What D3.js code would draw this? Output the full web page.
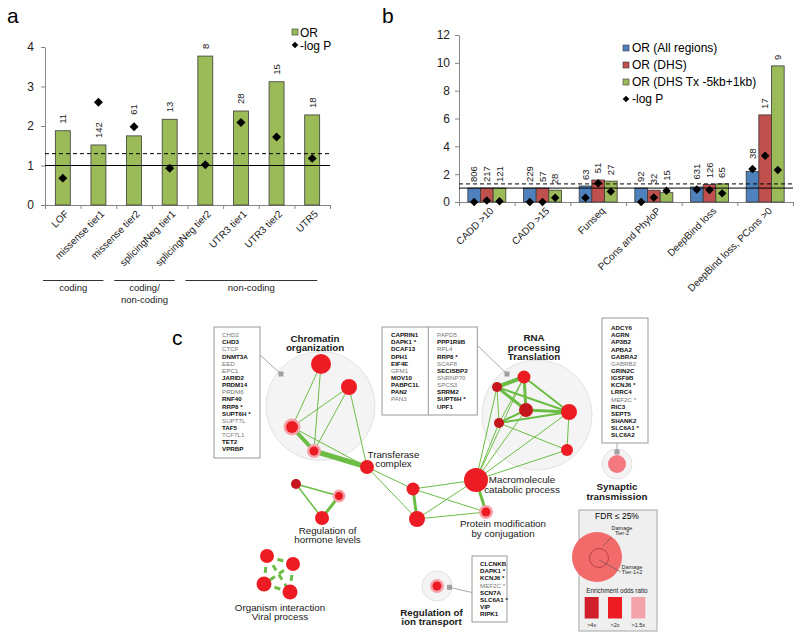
<!DOCTYPE html>
<html lang="en">
<head>
<meta charset="UTF-8">
<title>Variant enrichment and gene networks</title>
<style>
  body { margin: 0; background: #fff; }
  svg { display: block; font-family: Arial, "Liberation Sans", sans-serif; }
</style>
<script src="https://cdn.jsdelivr.net/npm/d3@7"></script>
</head>
<body>
<svg id="fig" width="800" height="637"></svg>
<script>
// ---- panel a data
const catsA = ['LOF', 'missense tier1', 'missense tier2', 'splicingNeg tier1', 'splicingNeg tier2', 'UTR3 tier1', 'UTR3 tier2', 'UTR5'];
const orA = [1.88, 1.52, 1.75, 2.17, 3.77, 2.38, 3.12, 2.28];
const logpA = [0.68, 2.6, 1.98, 0.93, 1.02, 2.09, 1.72, 1.18];
const countsA = [11, 142, 61, 13, 8, 28, 15, 18];
const ticksA = [0, 1, 2, 3, 4];
const groupsA = [
  { lines: ['coding'], from: 0, to: 1 },
  { lines: ['coding/', 'non-coding'], from: 2, to: 3 },
  { lines: ['non-coding'], from: 4, to: 7 }
];

// ---- panel b data
const catsB = ['CADD >10', 'CADD >15', 'Funseq', 'PCons and PhyloP', 'DeepBind loss', 'DeepBind loss, PCons >0'];
const seriesB = ['OR (All regions)', 'OR (DHS)', 'OR (DHS Tx -5kb+1kb)'];
const orAll = [1.0, 1.0, 1.15, 1.0, 1.08, 2.2];
const orDHS = [1.0, 1.0, 1.58, 0.85, 1.27, 6.26];
const orTx = [1.0, 0.85, 1.5, 0.67, 1.3, 9.78];
const logpAll = [0, 0, 0.3, 0, 0.9, 2.37];
const logpDHS = [0.1, 0, 1.35, 0.33, 0.87, 3.33];
const logpTx = [0.05, 0.3, 0.75, 0.8, 0.62, 2.3];
const countsAll = [806, 229, 63, 92, 631, 38];
const countsDHS = [217, 57, 51, 32, 126, 17];
const countsTx = [121, 28, 27, 15, 65, 9];
const ticksB = [0, 2, 4, 6, 8, 10, 12];

// ---- panel c data (layout units, mapped through scales below)
const netNodes = [
  { id: 'c1', x: 151, y: 49, r: 10, kind: 'red' },
  { id: 'c2', x: 179, y: 72, r: 8, kind: 'red' },
  { id: 'c3', x: 122, y: 112, r: 6, kind: 'halo' },
  { id: 'c4', x: 144, y: 136, r: 4.5, kind: 'halo' },
  { id: 'tr', x: 197, y: 152, r: 7, kind: 'red' },
  { id: 'h1', x: 126, y: 169, r: 5, kind: 'dark' },
  { id: 'h2', x: 169, y: 181, r: 4, kind: 'halo' },
  { id: 'h3', x: 152, y: 203, r: 7, kind: 'red' },
  { id: 'o1', x: 97, y: 241, r: 7, kind: 'red' },
  { id: 'o2', x: 123, y: 249, r: 7, kind: 'red' },
  { id: 'o3', x: 94, y: 269, r: 7.5, kind: 'red' },
  { id: 'o4', x: 120, y: 277, r: 7.5, kind: 'red' },
  { id: 'm1', x: 243, y: 174, r: 6.5, kind: 'red' },
  { id: 'm2', x: 247, y: 204, r: 8, kind: 'red' },
  { id: 'mc', x: 306, y: 165, r: 12, kind: 'red' },
  { id: 'pm', x: 316, y: 197, r: 4.5, kind: 'halo' },
  { id: 'r1', x: 354, y: 62, r: 6.5, kind: 'red' },
  { id: 'r2', x: 327, y: 72, r: 5, kind: 'dark' },
  { id: 'r3', x: 356, y: 95, r: 7, kind: 'dark' },
  { id: 'r4', x: 399, y: 97, r: 8, kind: 'red' },
  { id: 'r5', x: 329, y: 108, r: 5, kind: 'dark' },
  { id: 'r6', x: 397, y: 135, r: 6, kind: 'red' },
  { id: 's1', x: 447, y: 149, r: 9, kind: 'pink' },
  { id: 'i1', x: 267, y: 271, r: 4.5, kind: 'halo' }
];
// [source, target, weight, dashed]
const netEdges = [
  ['c1', 'c3', 1], ['c1', 'c4', 1], ['c2', 'c3', 1], ['c2', 'c4', 1], ['c2', 'tr', 1],
  ['c3', 'c4', 4], ['c3', 'tr', 1], ['c4', 'tr', 5],
  ['tr', 'm1', 1], ['tr', 'm2', 1],
  ['h1', 'h2', 1.5], ['h1', 'h3', 1.5], ['h2', 'h3', 3],
  ['o1', 'o2', 3, true], ['o1', 'o3', 3, true], ['o1', 'o4', 3, true],
  ['o2', 'o3', 3, true], ['o2', 'o4', 3, true], ['o3', 'o4', 3, true],
  ['m1', 'm2', 3], ['m1', 'mc', 1], ['m1', 'pm', 1], ['m2', 'mc', 1], ['m2', 'pm', 1], ['mc', 'pm', 3],
  ['r1', 'r2', 4], ['r1', 'r3', 3], ['r1', 'r4', 2], ['r2', 'r3', 3], ['r2', 'r4', 2],
  ['r2', 'r5', 1], ['r3', 'r4', 3], ['r3', 'r5', 2], ['r5', 'r4', 2], ['r1', 'r5', 1],
  ['r5', 'r6', 1], ['r4', 'r6', 1], ['r4', 'mc', 1], ['r6', 'mc', 1],
  ['mc', 'r1', 1], ['mc', 'r2', 1], ['mc', 'r3', 1], ['mc', 'r5', 1]
];
const clusters = [
  { x: 150.5, y: 91, r: 54.5 }, { x: 367, y: 100, r: 55 },
  { x: 447, y: 149, r: 15 }, { x: 267, y: 271, r: 15 }
];
const netLabels = [
  { lines: ['Chromatin', 'organization'], x: 145, y: 26.5, bold: true },
  { lines: ['RNA', 'processing', 'Translation'], x: 364, y: 26, bold: true },
  { lines: ['Transferase', 'complex'], x: 223.5, y: 142.5 },
  { lines: ['Regulation of', 'hormone levels'], x: 157.5, y: 218.5 },
  { lines: ['Organism interaction', 'Viral process'], x: 110, y: 295.5 },
  { lines: ['Macromolecule', 'catabolic process'], x: 352, y: 168 },
  { lines: ['Protein modification', 'by conjugation'], x: 333, y: 212 },
  { lines: ['Synaptic', 'transmission'], x: 447, y: 175, bold: true },
  { lines: ['Regulation of', 'ion transport'], x: 261.5, y: 300.5, bold: true }
];
const genes1 = ['CHD2', 'CHD3', 'CTCF', 'DNMT3A', 'EED', 'EPC1', 'JARID2', 'PRDM14', 'PRDM6', 'RNF40', 'RRP8 *', 'SUPT6H *', 'SUPT7L', 'TAF5', 'TCF7L1', 'TET2', 'VPRBP'];
const genes2a = ['CAPRIN1', 'DAPK1 *', 'DCAF13', 'DPH1', 'EIF4E', 'GFM1', 'MOV10', 'PABPC1L', 'PAN2', 'PAN3'];
const genes2b = ['PAPD5', 'PPP1R9B', 'RPL4', 'RRP8 *', 'SCAF8', 'SECISBP2', 'SNRNP70', 'SPCS3', 'SRRM2', 'SUPT6H *', 'UPF1'];
const genes3 = ['ADCY6', 'AGRN', 'AP3B2', 'APBA2', 'GABRA2', 'GABRB2', 'GRIN2C', 'IGSF9B', 'KCNJ6 *', 'LRRC4', 'MEF2C *', 'RIC3', 'SEPT5', 'SHANK2', 'SLC6A1 *', 'SLC6A2'];
const genes4 = ['CLCNKB', 'DAPK1 *', 'KCNJ6 *', 'MEF2C *', 'SCN7A', 'SLC6A1 *', 'VIP', 'RIPK1'];
const plainGenes = new Set(['CHD2', 'CTCF', 'EED', 'EPC1', 'PRDM6', 'SUPT7L', 'TCF7L1', 'GFM1', 'PAN3',
  'PAPD5', 'RPL4', 'SCAF8', 'SNRNP70', 'SPCS3', 'GABRB2', 'MEF2C *']);
const oddsLegend = ['>4x', '>2x', '>1.5x'];

const GREEN = '#9bbb59', BLUE = '#4f81bd', RED = '#c0504d', AXIS = '#868686';
const NODE = { red: '#ed1c24', dark: '#c4161c', pink: '#f47880', halo: '#f6a3aa' };
const svg = d3.select('#fig');

function diamond(g, x, y, size) {
  g.append('path')
    .attr('d', d3.symbol(d3.symbolSquare, size)())
    .attr('transform', `translate(${x},${y}) rotate(45)`)
    .attr('fill', '#000');
}
function styleAxis(g) {
  g.selectAll('path.domain').attr('stroke', AXIS);
  g.selectAll('.tick line').attr('stroke', AXIS);
  g.selectAll('.tick text').attr('fill', '#222').attr('font-size', 12);
}

// ================= panel a =================
const pa = svg.append('g');
const xa = d3.scaleBand().domain(catsA).range([45, 330]);
const xaIdx = d3.scaleLinear().domain([0, catsA.length]).range([45, 330]);
const ya = d3.scaleLinear().domain([0, 4]).range([205, 47]);
const bwA = xa.bandwidth() * 0.42;

pa.append('text').attr('x', 7).attr('y', 23).attr('font-size', 21).text('a');

pa.append('g').attr('transform', 'translate(45,0)')
  .call(d3.axisLeft(ya).tickValues(ticksA).tickFormat(d3.format('d')).tickSize(4).tickSizeOuter(0).tickPadding(7))
  .call(styleAxis);
pa.append('g').attr('transform', 'translate(0,205)')
  .call(d3.axisBottom(xaIdx).ticks(catsA.length).tickFormat('').tickSize(4).tickSizeOuter(0))
  .call(styleAxis);

pa.selectAll('rect.bar').data(catsA).join('rect')
  .attr('x', d => xa(d) + (xa.bandwidth() - bwA) / 2)
  .attr('y', (d, i) => ya(orA[i]))
  .attr('width', bwA)
  .attr('height', (d, i) => ya(0) - ya(orA[i]))
  .attr('fill', GREEN).attr('stroke', '#3a3a3a').attr('stroke-width', 0.8);

[[1, null], [1.3, '4,3']].forEach(([v, dash]) => {
  pa.append('line').attr('x1', 45).attr('x2', 330).attr('y1', ya(v)).attr('y2', ya(v))
    .attr('stroke', '#000').attr('stroke-width', 1).attr('stroke-dasharray', dash);
});

catsA.forEach((c, i) => {
  const cx = xa(c) + xa.bandwidth() / 2;
  diamond(pa, cx, ya(logpA[i]), 40);
  // count sits above the bar, or above the diamond when the diamond is just over the bar
  let top = ya(orA[i]);
  const gap = top - ya(logpA[i]);
  if (gap > 0 && gap < 20) top = ya(logpA[i]) - 5;
  pa.append('text').attr('transform', `translate(${cx},${top - 7}) rotate(-90)`)
    .attr('dy', '0.35em').attr('font-size', 9.5).attr('fill', '#222').text(countsA[i]);
  pa.append('text').attr('transform', `translate(${cx + 4},${212}) rotate(-45)`)
    .attr('text-anchor', 'end').attr('dy', '0.35em').attr('font-size', 10).attr('fill', '#222').text(c);
});

groupsA.forEach(g => {
  const x1 = xa(catsA[g.from]) - 2;
  const x2 = xa(catsA[g.to]) + xa.bandwidth() / 2 + 5;
  pa.append('line').attr('x1', x1).attr('x2', x2).attr('y1', 280.5).attr('y2', 280.5)
    .attr('stroke', '#333').attr('stroke-width', 1);
  g.lines.forEach((t, k) => {
    pa.append('text').attr('x', (x1 + x2) / 2).attr('y', 291 + k * 12)
      .attr('text-anchor', 'middle').attr('font-size', 9.5).attr('fill', '#222').text(t);
  });
});

const legA = pa.append('g');
legA.append('rect').attr('x', 292).attr('y', 29).attr('width', 6).attr('height', 6)
  .attr('fill', GREEN).attr('stroke', '#3a3a3a').attr('stroke-width', 0.6);
legA.append('text').attr('x', 300).attr('y', 36.5).attr('font-size', 12).text('OR');
diamond(legA, 295, 45, 22);
legA.append('text').attr('x', 300).attr('y', 49.5).attr('font-size', 12).text('-log P');

// ================= panel b =================
const pb = svg.append('g');
const xb = d3.scaleBand().domain(catsB).range([459, 793]);
const xbIdx = d3.scaleLinear().domain([0, catsB.length]).range([459, 793]);
const groupW = 38;
const xbs = d3.scaleBand().domain(seriesB)
  .range([(xb.bandwidth() - groupW) / 2, (xb.bandwidth() + groupW) / 2]);
const yb = d3.scaleLinear().domain([0, 12]).range([202, 35]);
const orB = [orAll, orDHS, orTx];
const logpB = [logpAll, logpDHS, logpTx];
const countsB = [countsAll, countsDHS, countsTx];
const colorsB = [BLUE, RED, GREEN];

pb.append('text').attr('x', 382).attr('y', 23).attr('font-size', 21).text('b');

pb.append('g').attr('transform', 'translate(459,0)')
  .call(d3.axisLeft(yb).tickValues(ticksB).tickFormat(d3.format('d')).tickSize(4).tickSizeOuter(0).tickPadding(5))
  .call(styleAxis);
pb.append('g').attr('transform', 'translate(0,202)')
  .call(d3.axisBottom(xbIdx).ticks(catsB.length).tickFormat('').tickSize(4).tickSizeOuter(0))
  .call(styleAxis);

seriesB.forEach((s, si) => {
  pb.selectAll(null).data(catsB).join('rect')
    .attr('x', d => xb(d) + xbs(s))
    .attr('y', (d, i) => yb(orB[si][i]))
    .attr('width', xbs.bandwidth())
    .attr('height', (d, i) => yb(0) - yb(orB[si][i]))
    .attr('fill', colorsB[si]).attr('stroke', '#3a3a3a').attr('stroke-width', 0.8);
});

[[1, null], [1.3, '4,3']].forEach(([v, dash]) => {
  pb.append('line').attr('x1', 459).attr('x2', 793).attr('y1', yb(v)).attr('y2', yb(v))
    .attr('stroke', '#000').attr('stroke-width', 1).attr('stroke-dasharray', dash);
});

catsB.forEach((c, i) => {
  seriesB.forEach((s, si) => {
    const cx = xb(c) + xbs(s) + xbs.bandwidth() / 2;
    diamond(pb, cx, yb(logpB[si][i]), 36);
    const top = Math.min(yb(orB[si][i]), yb(logpB[si][i]) - 4);
    pb.append('text').attr('transform', `translate(${cx},${top - 6}) rotate(-90)`)
      .attr('dy', '0.35em').attr('font-size', 9.5).attr('fill', '#222').text(countsB[si][i]);
  });
  const gx = xb(c) + xb.bandwidth() / 2;
  pb.append('text').attr('transform', `translate(${gx + 5},${209}) rotate(-45)`)
    .attr('text-anchor', 'end').attr('dy', '0.35em').attr('font-size', 10).attr('fill', '#222').text(c);
});

const legB = pb.append('g');
seriesB.forEach((s, si) => {
  const y = 48 + si * 17;
  legB.append('rect').attr('x', 623).attr('y', y - 3).attr('width', 6).attr('height', 6)
    .attr('fill', colorsB[si]).attr('stroke', '#3a3a3a').attr('stroke-width', 0.6);
  legB.append('text').attr('x', 632).attr('y', y + 4.3).attr('font-size', 12).text(s);
});
diamond(legB, 626, 99, 22);
legB.append('text').attr('x', 632).attr('y', 103.3).attr('font-size', 12).text('-log P');

// ================= panel c =================
const pc = svg.append('g');
const xc = d3.scaleLinear().domain([0, 600]).range([170, 770]);
const yc = d3.scaleLinear().domain([0, 320]).range([315, 635]);
const nodeById = new Map(netNodes.map(n => [n.id, n]));

pc.append('text').attr('x', 172).attr('y', 345).attr('font-size', 21).text('c');

pc.selectAll('circle.cluster').data(clusters).join('circle')
  .attr('cx', d => xc(d.x)).attr('cy', d => yc(d.y)).attr('r', d => d.r)
  .attr('fill', '#f4f4f4').attr('stroke', '#e2e2e2').attr('stroke-width', 1);

pc.selectAll('line.edge').data(netEdges).join('line')
  .attr('x1', d => xc(nodeById.get(d[0]).x)).attr('y1', d => yc(nodeById.get(d[0]).y))
  .attr('x2', d => xc(nodeById.get(d[1]).x)).attr('y2', d => yc(nodeById.get(d[1]).y))
  .attr('stroke', '#6cbd45').attr('stroke-width', d => d[2])
  .attr('stroke-dasharray', d => d[3] ? '6,5' : null);

pc.selectAll('circle.halo').data(netNodes.filter(n => n.kind === 'halo')).join('circle')
  .attr('cx', d => xc(d.x)).attr('cy', d => yc(d.y)).attr('r', d => d.r + 2.5)
  .attr('fill', NODE.halo);
pc.selectAll('circle.node').data(netNodes).join('circle')
  .attr('cx', d => xc(d.x)).attr('cy', d => yc(d.y)).attr('r', d => d.r)
  .attr('fill', d => d.kind === 'halo' ? NODE.red : NODE[d.kind]);

netLabels.forEach(l => {
  l.lines.forEach((t, k) => {
    pc.append('text').attr('x', xc(l.x)).attr('y', yc(l.y) + k * 9.7)
      .attr('text-anchor', 'middle').attr('font-size', 9.8)
      .attr('font-weight', l.bold ? 'bold' : null).attr('fill', '#1a1a1a').text(t);
  });
});

function geneColumn(list, x, y0) {
  list.forEach((g, k) => {
    const plain = plainGenes.has(g);
    pc.append('text').attr('x', xc(x)).attr('y', yc(y0) + k * 7.14 + 2.2)
      .attr('font-size', 6.2).attr('font-weight', plain ? null : 'bold')
      .attr('fill', plain ? '#777' : '#111').text(g);
  });
}
function geneBox(x0, x1, y0, y1) {
  pc.append('rect').attr('x', xc(x0)).attr('y', yc(y0))
    .attr('width', xc(x1) - xc(x0)).attr('height', yc(y1) - yc(y0))
    .attr('fill', '#fff').attr('stroke', '#999').attr('stroke-width', 1);
}
function connector(xa0, ya0, xa1, ya1) {
  pc.append('line').attr('x1', xc(xa0)).attr('y1', yc(ya0)).attr('x2', xc(xa1)).attr('y2', yc(ya1))
    .attr('stroke', '#aaa').attr('stroke-width', 1);
  pc.append('rect').attr('x', xc(xa1) - 2.5).attr('y', yc(ya1) - 2.5).attr('width', 5).attr('height', 5)
    .attr('fill', '#a0a0a0');
}

connector(90, 40, 111, 59);
geneBox(44, 90, 12, 143);
geneColumn(genes1, 52, 20);

connector(307, 30, 337, 59);
geneBox(212, 307.3, 12, 100);
pc.append('line').attr('x1', xc(258.3)).attr('x2', xc(258.3)).attr('y1', yc(12)).attr('y2', yc(100))
  .attr('stroke', '#999');
geneColumn(genes2a, 221, 20);
geneColumn(genes2b, 267, 20);

connector(447, 128, 447, 137);
geneBox(432, 478, 3, 128);
geneColumn(genes3, 441, 13);

connector(302, 277.5, 279.5, 272.3);
geneBox(302, 337, 241, 307);
geneColumn(genes4, 310, 249);

// legend box
const lg = pc.append('g').attr('transform', `translate(${xc(409)},${yc(195)})`);
lg.append('rect').attr('width', 78).attr('height', 121).attr('fill', '#efefef').attr('stroke', '#a5a5a5');
lg.append('text').attr('x', 38).attr('y', 9).attr('text-anchor', 'middle').attr('font-size', 8.5).text('FDR ≤ 25%');
lg.append('circle').attr('cx', 18).attr('cy', 47).attr('r', 25).attr('fill', '#f26a6a');
lg.append('circle').attr('cx', 20).attr('cy', 48).attr('r', 9.5).attr('fill', 'none')
  .attr('stroke', '#a83a3a').attr('stroke-width', 0.8);
lg.append('line').attr('x1', 33).attr('y1', 27).attr('x2', 24).attr('y2', 36).attr('stroke', '#555').attr('stroke-width', 0.6);
lg.append('line').attr('x1', 20).attr('y1', 50).attr('x2', 42).attr('y2', 62).attr('stroke', '#555').attr('stroke-width', 0.6);
[['Damage', 43, 19.5], ['Tier-2', 43, 25], ['Damage', 53, 58.5], ['Tier-1+2', 53, 64]].forEach(([t, x, y]) => {
  lg.append('text').attr('x', x).attr('y', y).attr('text-anchor', 'middle').attr('font-size', 5.5)
    .attr('fill', '#222').text(t);
});
lg.append('text').attr('x', 38).attr('y', 83).attr('text-anchor', 'middle').attr('font-size', 6.3)
  .attr('fill', '#222').text('Enrichment odds ratio');
const oddsX = d3.scaleBand().domain(oddsLegend).range([0, 70]).paddingInner(0.4).paddingOuter(0.2);
const oddsColor = d3.scaleOrdinal().domain(oddsLegend).range(['#d01f2a', '#ed1c24', '#f5a3ab']);
lg.selectAll('rect.odds').data(oddsLegend).join('rect')
  .attr('x', d => oddsX(d) + 1).attr('y', 87).attr('width', oddsX.bandwidth()).attr('height', 21.5)
  .attr('fill', d => oddsColor(d));
lg.selectAll('text.odds').data(oddsLegend).join('text')
  .attr('x', d => oddsX(d) + 1 + oddsX.bandwidth() / 2).attr('y', 117)
  .attr('text-anchor', 'middle').attr('font-size', 5.5).attr('fill', '#222').text(d => d);
</script>
</body>
</html>
